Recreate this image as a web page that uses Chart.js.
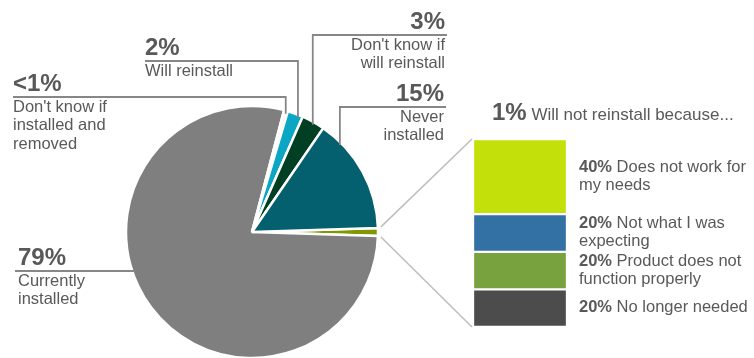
<!DOCTYPE html>
<html>
<head>
<meta charset="utf-8">
<script src="https://cdn.jsdelivr.net/npm/chart.js@4/dist/chart.umd.min.js"></script>
<style>
body{margin:0;background:#fff}
#wrap{position:relative;width:754px;height:358px}
#wrap canvas{position:absolute;left:0;top:0}
</style>
</head>
<body>
<div id="wrap">
<canvas id="pie" width="754" height="358"></canvas>
<canvas id="bar" width="754" height="358"></canvas>
</div>
<script>
// pie slices, clockwise starting from the small olive one
const pieLabels = ['Will not reinstall because...', 'Currently\ninstalled', "Don't know if\ninstalled and\nremoved", 'Will reinstall', "Don't know if\nwill reinstall", 'Never\ninstalled'];
const pieValues = [1, 79, 0.5, 2, 3, 15];
const piePct = ['1%', '79%', '<1%', '2%', '3%', '15%'];
const pieColors = ['#7f9800', '#7f7f7f', '#f4f4f4', '#0ba6c3', '#003f24', '#04606e'];

// breakdown of the 1% slice, top to bottom
const barLabels = ['Does not work for\nmy needs', 'Not what I was\nexpecting', 'Product does not\nfunction properly', 'No longer needed'];
const barValues = [40, 20, 20, 20];
const barPct = ['40%', '20%', '20%', '20%'];
const barColors = ['#c3e00a', '#3370a3', '#77a23d', '#4c4c4c'];

const FONT = '"Liberation Sans", Arial, sans-serif';
const TXT = '#595959';

// where each pie label sits (pct baseline), f = spot along the slice for the leader
const callouts = [
  {index: 2, x: 13, y: 91, align: 'left', f: 0.5, elbow: true},
  {index: 3, x: 145, y: 55, align: 'left', f: 0.7, elbow: true},
  {index: 4, x: 445, y: 29, align: 'right', f: 0.5, elbow: true},
  {index: 5, x: 444, y: 101, align: 'right', f: 0.19, elbow: true},
  {index: 1, x: 18, y: 265, align: 'left', elbow: false}
];

const calloutPlugin = {
  id: 'callouts',
  afterDatasetsDraw(chart) {
    const ctx = chart.ctx;
    const arcs = chart.getDatasetMeta(0).data;
    ctx.save();
    callouts.forEach(c => {
      const arc = arcs[c.index];
      const r = arc.outerRadius - 1;
      const lineY = c.y + 6;
      ctx.strokeStyle = '#878787';
      ctx.lineWidth = 1.8;
      ctx.beginPath();
      if (c.elbow) {
        const a = arc.startAngle + (arc.endAngle - arc.startAngle) * c.f;
        const px = arc.x + Math.cos(a) * r;
        const py = arc.y + Math.sin(a) * r;
        const from = c.align === 'left' ? c.x : c.x + 2;
        ctx.moveTo(from, lineY);
        ctx.lineTo(px, lineY);
        ctx.lineTo(px, py + 2);
      } else {
        const px = arc.x - Math.sqrt(r * r - (lineY - arc.y) ** 2);
        ctx.moveTo(c.x - 3, lineY);
        ctx.lineTo(px + 2, lineY);
      }
      ctx.stroke();

      ctx.fillStyle = TXT;
      ctx.textAlign = c.align;
      ctx.textBaseline = 'alphabetic';
      ctx.font = 'bold 24px ' + FONT;
      ctx.fillText(piePct[c.index], c.x, c.y);
      ctx.font = '16.5px ' + FONT;
      pieLabels[c.index].split('\n').forEach((t, i) => ctx.fillText(t, c.x, c.y + 20.5 + i * 18.5));
    });
    ctx.restore();
  }
};

const pieChart = new Chart(document.getElementById('pie'), {
  type: 'pie',
  data: {
    labels: pieLabels,
    datasets: [{
      data: pieValues,
      backgroundColor: pieColors,
      borderColor: '#ffffff',
      borderWidth: 2.5
    }]
  },
  options: {
    responsive: false,
    animation: false,
    rotation: 88.2,
    radius: 126,
    layout: {padding: {left: 127, right: 377, top: 107, bottom: 1}},
    plugins: {legend: {display: false}, tooltip: {enabled: false}}
  },
  plugins: [calloutPlugin]
});

const barPlugin = {
  id: 'barText',
  afterDatasetsDraw(chart) {
    const ctx = chart.ctx;
    ctx.save();
    // connectors from the olive slice to the stacked bar
    const olive = pieChart.getDatasetMeta(0).data[0];
    const R = olive.outerRadius + 3;
    const top = chart.getDatasetMeta(0).data[0];
    const bottom = chart.getDatasetMeta(barValues.length - 1).data[0];
    const left = top.x - top.width / 2 - 1;
    ctx.strokeStyle = '#bfbfbf';
    ctx.lineWidth = 1.6;
    ctx.beginPath();
    ctx.moveTo(olive.x + Math.cos(olive.startAngle) * R, olive.y + Math.sin(olive.startAngle) * R - 1);
    ctx.lineTo(left, Math.min(top.y, top.base));
    ctx.moveTo(olive.x + Math.cos(olive.endAngle) * R, olive.y + Math.sin(olive.endAngle) * R + 1);
    ctx.lineTo(left, Math.max(bottom.y, bottom.base));
    ctx.stroke();

    // heading above the bar
    ctx.fillStyle = TXT;
    ctx.textAlign = 'left';
    ctx.textBaseline = 'alphabetic';
    ctx.font = 'bold 24px ' + FONT;
    const hx = left + 20, hy = Math.min(top.y, top.base) - 19;
    ctx.fillText(piePct[0], hx, hy);
    const w = ctx.measureText(piePct[0]).width;
    ctx.font = '17px ' + FONT;
    ctx.fillText(' ' + pieLabels[0], hx + w, hy);

    // segment labels
    barLabels.forEach((lab, i) => {
      const el = chart.getDatasetMeta(i).data[0];
      const cy = (el.y + el.base) / 2;
      const lines = lab.split('\n');
      const x = el.x + el.width / 2 + 12;
      let y = cy - (lines.length - 1) * 18 / 2 + 4;
      lines.forEach((t, j) => {
        let tx = x;
        if (j === 0) {
          ctx.font = 'bold 16.5px ' + FONT;
          ctx.fillText(barPct[i], tx, y);
          tx += ctx.measureText(barPct[i] + ' ').width;
        }
        ctx.font = '16.5px ' + FONT;
        ctx.fillText(t, tx, y + j * 18);
      });
    });
    ctx.restore();
  }
};

new Chart(document.getElementById('bar'), {
  type: 'bar',
  data: {
    labels: ['Will not reinstall'],
    datasets: barLabels.map((l, i) => ({
      label: l,
      data: [barValues[i]],
      backgroundColor: barColors[i],
      borderColor: '#ffffff',
      borderWidth: 1.5,
      borderSkipped: false,
      barPercentage: 1,
      categoryPercentage: 1
    }))
  },
  options: {
    responsive: false,
    animation: false,
    layout: {padding: {left: 473, right: 187, top: 139, bottom: 31}},
    scales: {
      x: {display: false, stacked: true},
      y: {display: false, stacked: true, reverse: true, min: 0, max: 100}
    },
    plugins: {legend: {display: false}, tooltip: {enabled: false}}
  },
  plugins: [barPlugin]
});
</script>
</body>
</html>
